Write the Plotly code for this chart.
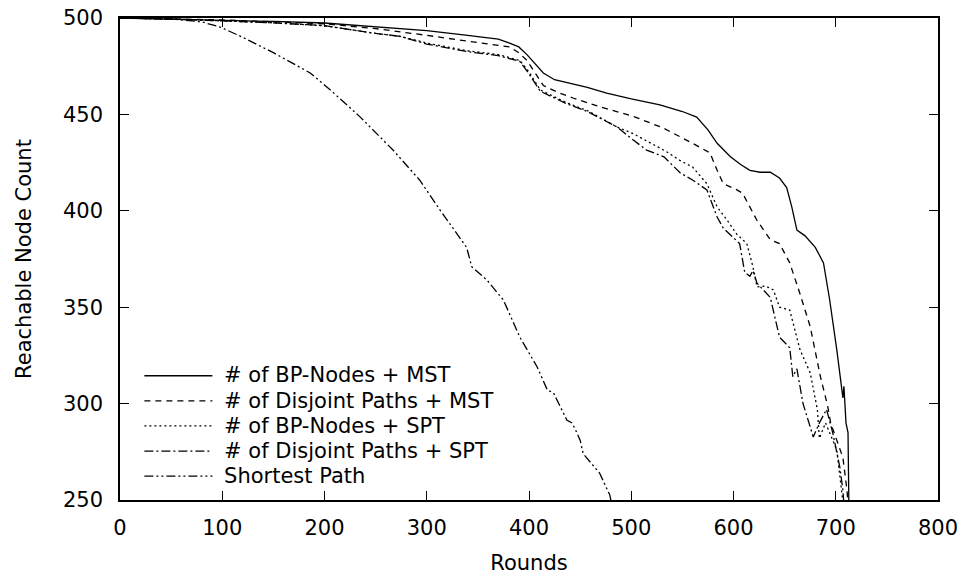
import plotly.graph_objects as go

# ---- data ----
bp_mst_x = [0, 50, 100, 150, 200, 250, 274, 300, 340, 370, 381, 390, 398, 408, 414, 425, 440, 457, 476, 500, 528, 550, 564, 575, 584, 597, 607, 616, 626, 636, 645, 652, 657, 662, 670, 680, 688, 694, 701, 705, 707, 708, 710, 712, 713]
bp_mst_y = [500, 499.5, 499, 498.2, 497.4, 495.5, 494.5, 493.5, 491, 489, 487, 485, 481, 475, 471.5, 468, 466, 464, 461, 458, 455, 451.5, 448.6, 442, 435, 428, 424, 421, 420, 420, 417, 412, 402, 390, 387, 381, 373, 354, 328, 310, 303, 309, 290, 285, 240]

dp_mst_x = [0, 50, 100, 150, 200, 250, 274, 300, 340, 381, 390, 398, 414, 430, 443, 469, 502, 531, 560, 577, 584, 590, 603, 609, 623, 636, 645, 655, 665, 675, 685, 690, 692, 695, 702, 707, 711, 713]
dp_mst_y = [500, 499.5, 499, 498, 497, 494.5, 493, 491, 488, 485, 482, 478, 465, 461, 458.5, 454, 449, 443, 435, 430, 421, 414, 411, 409, 395, 385, 383, 373, 357, 340, 314, 303, 299, 290, 280, 272, 255, 240]

bp_spt_x = [0, 50, 100, 150, 200, 250, 274, 300, 340, 370, 391, 400, 411, 437, 457, 486, 502, 535, 548, 560, 574, 584, 594, 603, 613, 619, 623, 631, 639, 645, 655, 665, 675, 682, 684, 690, 701, 707, 709]
bp_spt_y = [500, 499.5, 498.5, 497.5, 496, 492, 490.5, 487, 483, 481, 478, 472, 462.7, 456, 452, 443.5, 440, 430.5, 426, 422.7, 414, 402, 395, 388, 383, 371, 360.5, 361, 359, 350, 348.5, 328, 316, 297, 282, 290, 276, 251.5, 240]

dp_spt_x = [0, 50, 100, 150, 200, 250, 274, 300, 340, 370, 391, 400, 411, 437, 457, 486, 502, 515, 532, 548, 560, 574, 584, 590, 606, 611, 616, 619, 623, 636, 645, 655, 658, 662, 668, 675, 678, 684, 691, 697, 704, 707, 709]
dp_spt_y = [500, 499.5, 498.5, 497.5, 496, 492, 490.5, 486.5, 482.5, 480.5, 477.5, 471, 462, 455.5, 451.5, 443.5, 436.7, 431.5, 428, 419.6, 416, 410.8, 396.8, 391, 383, 368, 366, 369, 362.5, 355, 334.5, 329, 314, 318, 300, 288, 282.7, 290, 297, 285, 267, 255, 240]

sp_x = [0, 50, 80, 98, 120, 150, 186, 208, 235, 267, 293, 313, 339, 344, 359, 375, 391, 408, 418, 424, 437, 442, 445, 450, 453, 469, 479, 482]
sp_y = [500, 499.5, 498, 495.3, 490, 482, 471.5, 461.6, 448.6, 431.5, 416, 400.4, 381, 371, 364, 353.7, 334.5, 319, 307, 305.5, 291.5, 290, 287, 281, 274, 264, 252.6, 245]

x_ticks = [0, 100, 200, 300, 400, 500, 600, 700, 800]
y_ticks = [250, 300, 350, 400, 450, 500]

series_names = ["# of BP-Nodes + MST", "# of Disjoint Paths + MST", "# of BP-Nodes + SPT",
                "# of Disjoint Paths + SPT", "Shortest Path"]
series_x = [bp_mst_x, dp_mst_x, bp_spt_x, dp_spt_x, sp_x]
series_y = [bp_mst_y, dp_mst_y, bp_spt_y, dp_spt_y, sp_y]
series_dash = ["solid", "6px,5px", "2px,3px", "9px,3px,2px,3px", "9px,3px,2px,3px,2px,3px"]

TXT = 21
fig = go.Figure()
for i in range(len(series_names)):
    fig.add_trace(go.Scatter(
        x=series_x[i], y=series_y[i], mode="lines",
        name=f'<span style="font-size:{TXT}px">&nbsp;{series_names[i]}</span>',
        legendgroup=str(i),
        line=dict(color="black", width=1.3, dash=series_dash[i]),
    ))

font = dict(family="DejaVu Sans", size=TXT, color="black")
fig.update_layout(
    width=965, height=577,
    margin=dict(l=120, r=27, t=18, b=77),
    paper_bgcolor="white", plot_bgcolor="white",
    font=font,
    showlegend=True,
    legend=dict(
        x=0.0237, y=0.012, xanchor="left", yanchor="bottom",
        bgcolor="rgba(0,0,0,0)", borderwidth=0,
        font=dict(family="DejaVu Sans", size=17, color="black"),
        itemwidth=68, tracegroupgap=0,
    ),
    xaxis=dict(
        range=[0, 800], tickvals=x_ticks, ticktext=[str(v) for v in x_ticks],
        showgrid=False, zeroline=False, showline=True, linecolor="black", linewidth=1.5,
        mirror="ticks", ticks="inside", ticklen=9, tickwidth=1.2, tickcolor="black",
        ticklabelstandoff=8, automargin=False,
        title=dict(text="Rounds", font=font, standoff=16),
    ),
    yaxis=dict(
        range=[250, 500], tickvals=y_ticks, ticktext=[str(v) for v in y_ticks],
        showgrid=False, zeroline=False, showline=True, linecolor="black", linewidth=1.5,
        mirror="ticks", ticks="inside", ticklen=9, tickwidth=1.2, tickcolor="black",
        ticklabelstandoff=11, automargin=False,
        title=dict(text="Reachable Node Count", font=font, standoff=26),
    ),
)

fig.write_html("out.html")
